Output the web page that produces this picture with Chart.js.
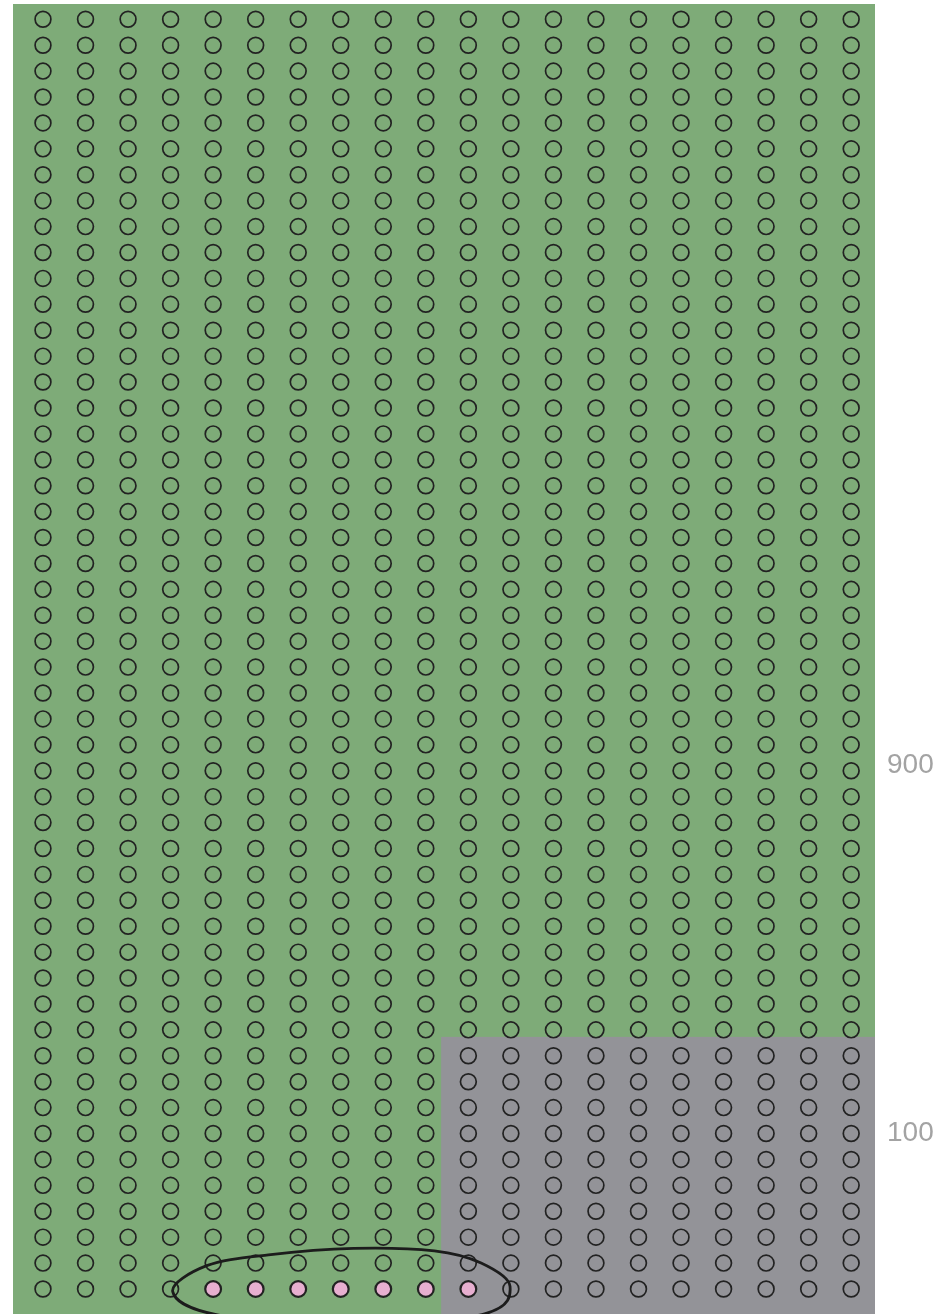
<!DOCTYPE html>
<html>
<head>
<meta charset="utf-8">
<script src="https://cdn.jsdelivr.net/npm/chart.js@4.4.1/dist/chart.umd.min.js"></script>
<style>
  html, body { margin: 0; padding: 0; background: #ffffff; }
  canvas { display: block; }
</style>
</head>
<body>
<canvas id="myChart" width="941" height="1314"></canvas>
<script>
// Unit chart: 1000 units, split into two groups
const groupLabels = ["900", "100"];
const groupCounts = [900, 100];
const groupColors = ["#7eab78", "#939398"];
const gridCols = 20;
const gridRows = 50;

// highlighted units (bottom row), column indices
const highlightRow = 0;
const highlightCols = [4, 5, 6, 7, 8, 9, 10];

// label rows for the group labels on the right
const labelRows = [20.2, 6.0];

// small group sits in the lower right block: 10 cols x 10 rows
const smallCols = 10;
const smallRows = groupCounts[1] / smallCols;

const points = [];
const fills = [];
const borders = [];
for (let r = gridRows - 1; r >= 0; r--) {
  for (let c = 0; c < gridCols; c++) {
    points.push({ x: c, y: r });
    const hl = r === highlightRow && highlightCols.includes(c);
    fills.push(hl ? "#e7afd0" : "rgba(0,0,0,0)");
    borders.push(hl ? 2.2 : 1.7);
  }
}

// ring drawn round the highlighted units, in grid units
const ring = [
  [3.05, -0.1], [3.85, 0.9], [5.3, 1.32], [7.3, 1.57], [9.2, 1.47],
  [10.3, 1.0], [10.98, 0.1], [10.4, -0.95], [7.4, -1.5], [4.1, -1.0]
];

const panels = {
  id: "panels",
  beforeDatasetsDraw(chart) {
    const { ctx, chartArea, scales } = chart;
    const x = scales.x, y = scales.y;
    ctx.save();
    ctx.fillStyle = groupColors[0];
    ctx.fillRect(chartArea.left, chartArea.top, chartArea.right - chartArea.left, chartArea.bottom - chartArea.top);
    const gx = x.getPixelForValue(gridCols - smallCols - 0.64);
    const gy = y.getPixelForValue(smallRows - 0.27);
    ctx.fillStyle = groupColors[1];
    ctx.fillRect(gx, gy, chartArea.right - gx, chartArea.bottom - gy);
    ctx.restore();
  },
  afterDatasetsDraw(chart) {
    const { ctx, chartArea, scales } = chart;
    const pts = ring.map(p => [scales.x.getPixelForValue(p[0]), scales.y.getPixelForValue(p[1])]);
    const n = pts.length;
    ctx.save();
    ctx.beginPath();
    ctx.rect(chartArea.left, chartArea.top, chartArea.right - chartArea.left, chartArea.bottom - chartArea.top);
    ctx.clip();
    ctx.beginPath();
    ctx.moveTo(pts[0][0], pts[0][1]);
    for (let i = 0; i < n; i++) {
      const p0 = pts[(i - 1 + n) % n], p1 = pts[i], p2 = pts[(i + 1) % n], p3 = pts[(i + 2) % n];
      const c1x = p1[0] + (p2[0] - p0[0]) / 6, c1y = p1[1] + (p2[1] - p0[1]) / 6;
      const c2x = p2[0] - (p3[0] - p1[0]) / 6, c2y = p2[1] - (p3[1] - p1[1]) / 6;
      ctx.bezierCurveTo(c1x, c1y, c2x, c2y, p2[0], p2[1]);
    }
    ctx.closePath();
    ctx.strokeStyle = "#1c1c1c";
    ctx.lineWidth = 2.8;
    ctx.stroke();
    ctx.restore();
  },
  afterDraw(chart) {
    const { ctx, chartArea, scales } = chart;
    ctx.save();
    ctx.fillStyle = "#a3a3a3";
    ctx.font = "28px 'Liberation Sans', Arial, sans-serif";
    ctx.textAlign = "left";
    ctx.textBaseline = "middle";
    groupLabels.forEach((t, i) => {
      ctx.fillText(t, chartArea.right + 12, scales.y.getPixelForValue(labelRows[i]));
    });
    ctx.restore();
  }
};

const ctx = document.getElementById("myChart").getContext("2d");

const myChart = new Chart(ctx, {
  type: "scatter",
  data: {
    datasets: [
      {
        data: points,
        pointRadius: 7.9,
        pointHoverRadius: 7.9,
        pointBackgroundColor: fills,
        pointBorderColor: "#222222",
        pointBorderWidth: borders,
        showLine: false,
      },
    ],
  },
  options: {
    responsive: false,
    animation: false,
    devicePixelRatio: 1,
    layout: { autoPadding: false, padding: { left: 13, right: 66, top: 4, bottom: 0 } },
    plugins: { legend: { display: false }, tooltip: { enabled: false } },
    events: [],
    scales: {
      x: { type: "linear", min: -0.705, max: 19.56, display: false },
      y: { type: "linear", min: -0.965, max: 49.59, display: false },
    },
  },
  plugins: [panels],
});
</script>
</body>
</html>
